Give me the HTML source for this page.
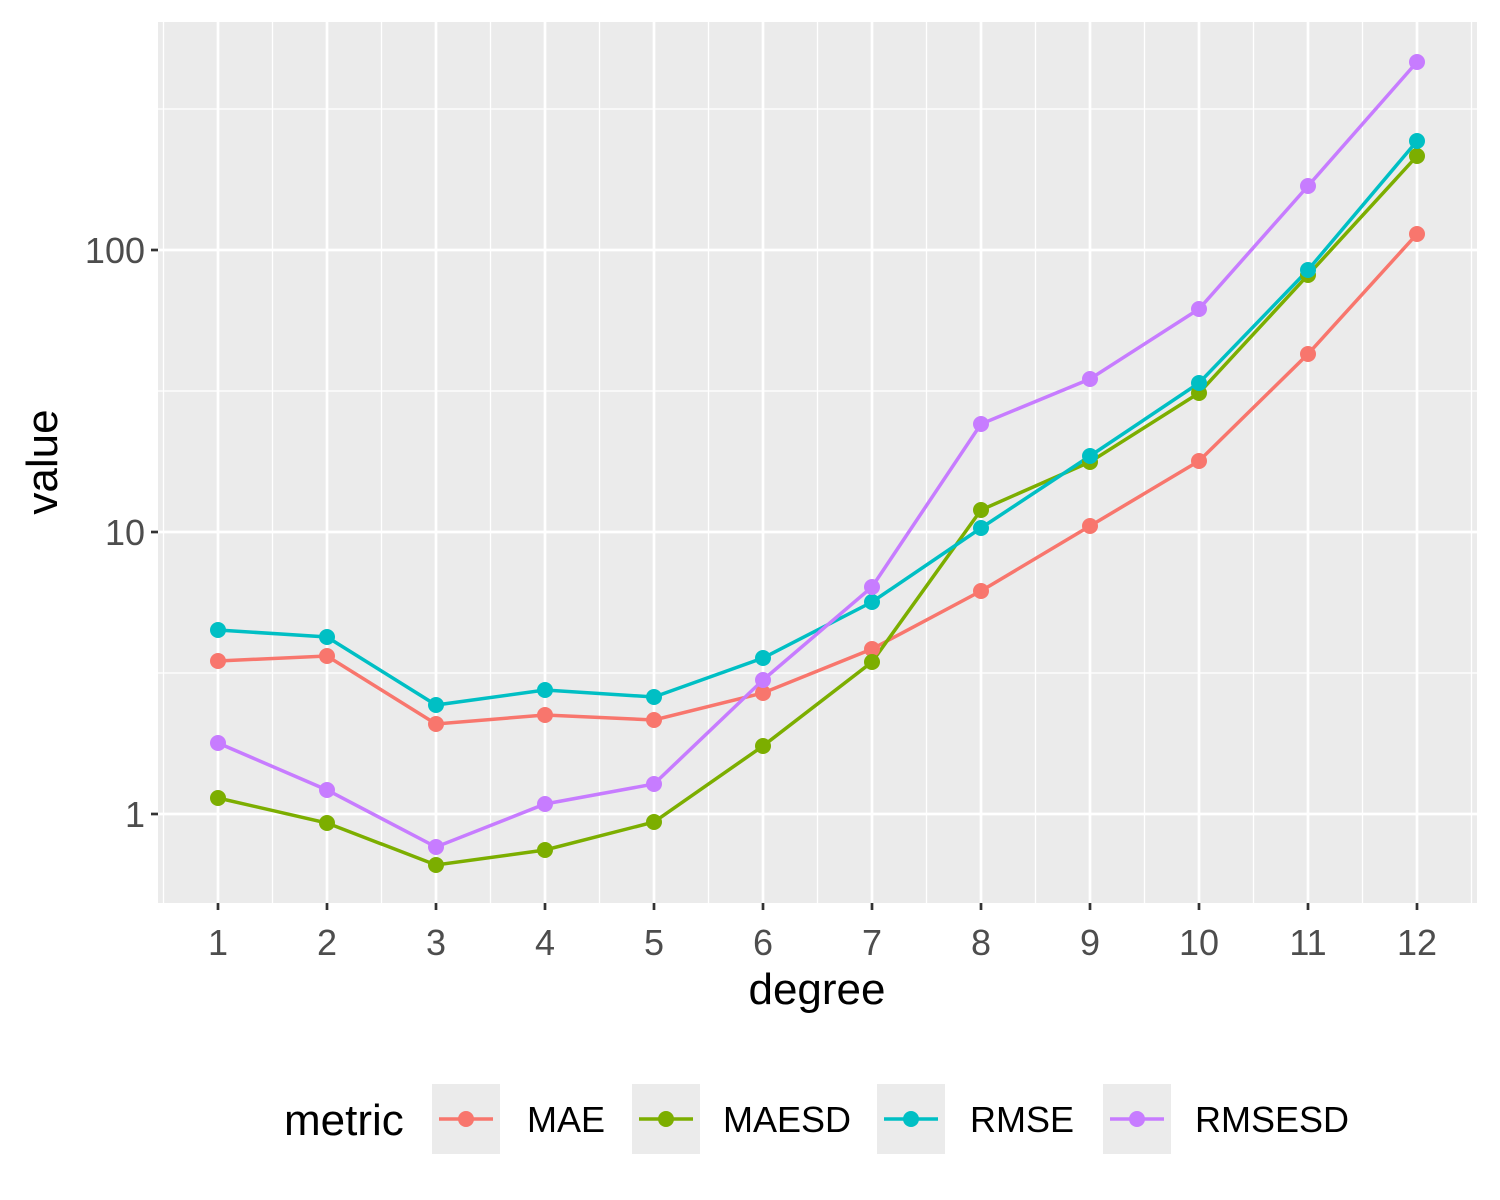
<!DOCTYPE html>
<html><head><style>body{margin:0;background:#fff}svg{display:block;font-family:"Liberation Sans",Arial,sans-serif}</style></head>
<body>
<svg width="1500" height="1200" xmlns="http://www.w3.org/2000/svg">
<rect x="158" y="22" width="1319" height="881" fill="#EBEBEB"/>
<g stroke="#fff" stroke-width="1.3">
<line x1="158" x2="1477" y1="109" y2="109"/><line x1="158" x2="1477" y1="391" y2="391"/><line x1="158" x2="1477" y1="673" y2="673"/>
<line x1="163.5" x2="163.5" y1="22" y2="903"/><line x1="272.5" x2="272.5" y1="22" y2="903"/><line x1="381.5" x2="381.5" y1="22" y2="903"/><line x1="490.5" x2="490.5" y1="22" y2="903"/><line x1="599.5" x2="599.5" y1="22" y2="903"/><line x1="708.5" x2="708.5" y1="22" y2="903"/><line x1="817.5" x2="817.5" y1="22" y2="903"/><line x1="926.5" x2="926.5" y1="22" y2="903"/><line x1="1035.5" x2="1035.5" y1="22" y2="903"/><line x1="1144.5" x2="1144.5" y1="22" y2="903"/><line x1="1253.5" x2="1253.5" y1="22" y2="903"/><line x1="1362.5" x2="1362.5" y1="22" y2="903"/><line x1="1471.5" x2="1471.5" y1="22" y2="903"/>
</g>
<g stroke="#fff" stroke-width="2.7">
<line x1="158" x2="1477" y1="250" y2="250"/><line x1="158" x2="1477" y1="532" y2="532"/><line x1="158" x2="1477" y1="814" y2="814"/>
<line x1="218" x2="218" y1="22" y2="903"/><line x1="327" x2="327" y1="22" y2="903"/><line x1="436" x2="436" y1="22" y2="903"/><line x1="545" x2="545" y1="22" y2="903"/><line x1="654" x2="654" y1="22" y2="903"/><line x1="763" x2="763" y1="22" y2="903"/><line x1="872" x2="872" y1="22" y2="903"/><line x1="981" x2="981" y1="22" y2="903"/><line x1="1090" x2="1090" y1="22" y2="903"/><line x1="1199" x2="1199" y1="22" y2="903"/><line x1="1308" x2="1308" y1="22" y2="903"/><line x1="1417" x2="1417" y1="22" y2="903"/>
</g>
<g stroke="#333" stroke-width="2.7">
<line x1="151" x2="158" y1="250" y2="250"/><line x1="151" x2="158" y1="532" y2="532"/><line x1="151" x2="158" y1="814" y2="814"/>
<line x1="218" x2="218" y1="903" y2="910"/><line x1="327" x2="327" y1="903" y2="910"/><line x1="436" x2="436" y1="903" y2="910"/><line x1="545" x2="545" y1="903" y2="910"/><line x1="654" x2="654" y1="903" y2="910"/><line x1="763" x2="763" y1="903" y2="910"/><line x1="872" x2="872" y1="903" y2="910"/><line x1="981" x2="981" y1="903" y2="910"/><line x1="1090" x2="1090" y1="903" y2="910"/><line x1="1199" x2="1199" y1="903" y2="910"/><line x1="1308" x2="1308" y1="903" y2="910"/><line x1="1417" x2="1417" y1="903" y2="910"/>
</g>
<g font-size="36" fill="#4D4D4D" text-anchor="end">
<text x="145" y="263">100</text><text x="145" y="545">10</text><text x="145" y="827">1</text>
</g>
<g font-size="36" fill="#4D4D4D" text-anchor="middle">
<text x="218" y="955">1</text><text x="327" y="955">2</text><text x="436" y="955">3</text><text x="545" y="955">4</text><text x="654" y="955">5</text><text x="763" y="955">6</text><text x="872" y="955">7</text><text x="981" y="955">8</text><text x="1090" y="955">9</text><text x="1199" y="955">10</text><text x="1308" y="955">11</text><text x="1417" y="955">12</text>
</g>
<text x="817" y="1004" font-size="44" text-anchor="middle">degree</text>
<text transform="translate(57,462) rotate(-90)" font-size="44" text-anchor="middle">value</text>
<g fill="none" stroke-width="3.5">
<polyline stroke="#F8766D" points="218,661 327,656 436,724 545,715 654,720 763,693 872,649 981,591 1090,526 1199,461 1308,354 1417,234"/>
<polyline stroke="#7CAE00" points="218,798 327,823 436,865 545,850 654,822 763,746 872,662 981,510 1090,462 1199,393 1308,275 1417,156"/>
<polyline stroke="#00BFC4" points="218,630 327,637 436,705 545,690 654,697 763,658 872,602 981,528 1090,456 1199,383 1308,270 1417,141"/>
<polyline stroke="#C77CFF" points="218,743 327,790 436,847 545,804 654,784 763,680 872,587 981,424 1090,379 1199,309 1308,186 1417,62"/>
</g>
<g fill="#F8766D"><circle cx="218" cy="661" r="8"/><circle cx="327" cy="656" r="8"/><circle cx="436" cy="724" r="8"/><circle cx="545" cy="715" r="8"/><circle cx="654" cy="720" r="8"/><circle cx="763" cy="693" r="8"/><circle cx="872" cy="649" r="8"/><circle cx="981" cy="591" r="8"/><circle cx="1090" cy="526" r="8"/><circle cx="1199" cy="461" r="8"/><circle cx="1308" cy="354" r="8"/><circle cx="1417" cy="234" r="8"/></g>
<g fill="#7CAE00"><circle cx="218" cy="798" r="8"/><circle cx="327" cy="823" r="8"/><circle cx="436" cy="865" r="8"/><circle cx="545" cy="850" r="8"/><circle cx="654" cy="822" r="8"/><circle cx="763" cy="746" r="8"/><circle cx="872" cy="662" r="8"/><circle cx="981" cy="510" r="8"/><circle cx="1090" cy="462" r="8"/><circle cx="1199" cy="393" r="8"/><circle cx="1308" cy="275" r="8"/><circle cx="1417" cy="156" r="8"/></g>
<g fill="#00BFC4"><circle cx="218" cy="630" r="8"/><circle cx="327" cy="637" r="8"/><circle cx="436" cy="705" r="8"/><circle cx="545" cy="690" r="8"/><circle cx="654" cy="697" r="8"/><circle cx="763" cy="658" r="8"/><circle cx="872" cy="602" r="8"/><circle cx="981" cy="528" r="8"/><circle cx="1090" cy="456" r="8"/><circle cx="1199" cy="383" r="8"/><circle cx="1308" cy="270" r="8"/><circle cx="1417" cy="141" r="8"/></g>
<g fill="#C77CFF"><circle cx="218" cy="743" r="8"/><circle cx="327" cy="790" r="8"/><circle cx="436" cy="847" r="8"/><circle cx="545" cy="804" r="8"/><circle cx="654" cy="784" r="8"/><circle cx="763" cy="680" r="8"/><circle cx="872" cy="587" r="8"/><circle cx="981" cy="424" r="8"/><circle cx="1090" cy="379" r="8"/><circle cx="1199" cy="309" r="8"/><circle cx="1308" cy="186" r="8"/><circle cx="1417" cy="62" r="8"/></g>
<text x="284" y="1135" font-size="44">metric</text>
<g fill="#EBEBEB"><rect x="432" y="1084" width="68" height="70"/><rect x="632" y="1084" width="68" height="70"/><rect x="877" y="1084" width="68" height="70"/><rect x="1103" y="1084" width="68" height="70"/></g>
<g stroke-width="3.5"><line x1="439" x2="493" y1="1119" y2="1119" stroke="#F8766D"/><line x1="639" x2="693" y1="1119" y2="1119" stroke="#7CAE00"/><line x1="884" x2="938" y1="1119" y2="1119" stroke="#00BFC4"/><line x1="1110" x2="1164" y1="1119" y2="1119" stroke="#C77CFF"/></g>
<circle cx="466" cy="1119" r="8" fill="#F8766D"/><circle cx="666" cy="1119" r="8" fill="#7CAE00"/><circle cx="911" cy="1119" r="8" fill="#00BFC4"/><circle cx="1137" cy="1119" r="8" fill="#C77CFF"/>
<g font-size="36"><text x="527" y="1132">MAE</text><text x="723" y="1132">MAESD</text><text x="970" y="1132">RMSE</text><text x="1195" y="1132">RMSESD</text></g>
</svg>
</body></html>
